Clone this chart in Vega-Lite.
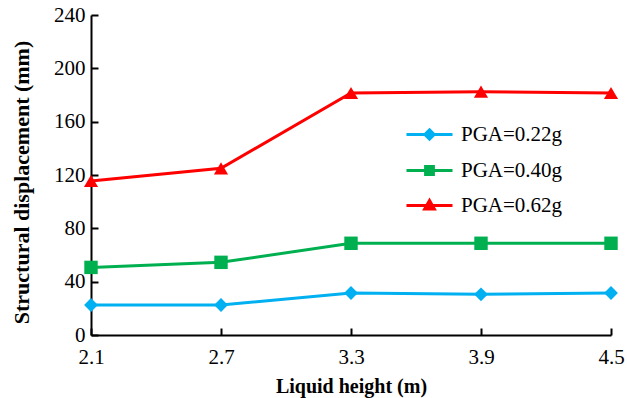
{
  "$schema": "https://vega.github.io/schema/vega-lite/v6.json",
  "width": 520,
  "height": 320,
  "autosize": {"type": "none"},
  "padding": {"left": 91, "top": 15, "right": 16, "bottom": 63},
  "background": "white",
  "config": {
    "view": {"stroke": null},
    "font": "Liberation Serif",
    "axis": {
      "grid": false,
      "labelFlush": false,
      "domainColor": "black",
      "domainWidth": 2,
      "tickColor": "black",
      "tickWidth": 2,
      "tickSize": -7,
      "labelFont": "Liberation Serif",
      "labelFontSize": 21,
      "labelColor": "black",
      "titleFont": "Liberation Serif",
      "titleFontSize": 20,
      "titleFontWeight": "bold",
      "titleColor": "black"
    }
  },
  "data": {
    "values": [
      {"h": 2.1, "d": 22.5, "pga": "PGA=0.22g"},
      {"h": 2.7, "d": 22.5, "pga": "PGA=0.22g"},
      {"h": 3.3, "d": 31.5, "pga": "PGA=0.22g"},
      {"h": 3.9, "d": 30.5, "pga": "PGA=0.22g"},
      {"h": 4.5, "d": 31.5, "pga": "PGA=0.22g"},
      {"h": 2.1, "d": 50.7, "pga": "PGA=0.40g"},
      {"h": 2.7, "d": 54.5, "pga": "PGA=0.40g"},
      {"h": 3.3, "d": 68.8, "pga": "PGA=0.40g"},
      {"h": 3.9, "d": 68.8, "pga": "PGA=0.40g"},
      {"h": 4.5, "d": 68.8, "pga": "PGA=0.40g"},
      {"h": 2.1, "d": 115.5, "pga": "PGA=0.62g"},
      {"h": 2.7, "d": 125, "pga": "PGA=0.62g"},
      {"h": 3.3, "d": 181.5, "pga": "PGA=0.62g"},
      {"h": 3.9, "d": 182.5, "pga": "PGA=0.62g"},
      {"h": 4.5, "d": 181.5, "pga": "PGA=0.62g"}
    ]
  },
  "encoding": {
    "x": {
      "field": "h", "type": "quantitative",
      "scale": {"domain": [2.1, 4.5], "nice": false, "zero": false},
      "axis": {"values": [2.1, 2.7, 3.3, 3.9, 4.5], "format": ".1f", "title": "Liquid height (m)", "labelPadding": 18, "titleY": 57, "titleBaseline": "alphabetic"}
    },
    "y": {
      "field": "d", "type": "quantitative",
      "scale": {"domain": [0, 240], "nice": false},
      "axis": {"values": [0, 40, 80, 120, 160, 200, 240], "title": "Structural displacement (mm)", "labelPadding": 13, "titleX": -70, "titleY": 167, "titleAngle": -90, "titleBaseline": "middle", "titleFontSize": 22}
    },
    "color": {
      "field": "pga", "type": "nominal",
      "scale": {"domain": ["PGA=0.22g", "PGA=0.40g", "PGA=0.62g"], "range": ["#00B0F0", "#00B050", "#FF0000"]},
      "legend": {
        "title": null,
        "orient": "none",
        "legendX": 299,
        "legendY": 95,
        "padding": 0,
        "labelFont": "Liberation Serif",
        "labelFontSize": 21,
        "labelColor": "black",
        "labelOffset": 7,
        "symbolSize": 100,
        "symbolOffset": 15,
        "rowPadding": -14,
        "encode": {
          "symbols": {
            "update": {
              "shape": {"signal": "datum.value === 'PGA=0.22g' ? 'M-1,0H1M0,-0.2L0.2,0L0,0.2L-0.2,0Z' : datum.value === 'PGA=0.40g' ? 'M-1,0H1M-0.17,-0.17H0.17V0.17H-0.17Z' : 'M-1,0H1M0,-0.22L0.21,0.15H-0.21Z'"},
              "size": {"value": 2116},
              "strokeWidth": {"value": 3},
              "fill": {"scale": "color", "field": "value"},
              "stroke": {"scale": "color", "field": "value"},
              "opacity": {"value": 1},
              "fillOpacity": {"value": 1},
              "strokeOpacity": {"value": 1}
            }
          }
        }
      }
    }
  },
  "layer": [
    {"mark": {"type": "line", "strokeWidth": 3}},
    {
      "transform": [{"filter": {"field": "pga", "equal": "PGA=0.22g"}}],
      "mark": {"type": "point", "filled": true, "opacity": 1, "shape": "diamond", "size": 190}
    },
    {
      "transform": [{"filter": {"field": "pga", "equal": "PGA=0.40g"}}],
      "mark": {"type": "point", "filled": true, "opacity": 1, "shape": "square", "size": 180}
    },
    {
      "transform": [{"filter": {"field": "pga", "equal": "PGA=0.62g"}}],
      "mark": {"type": "point", "filled": true, "opacity": 1, "shape": "triangle-up", "size": 200}
    }
  ]
}
